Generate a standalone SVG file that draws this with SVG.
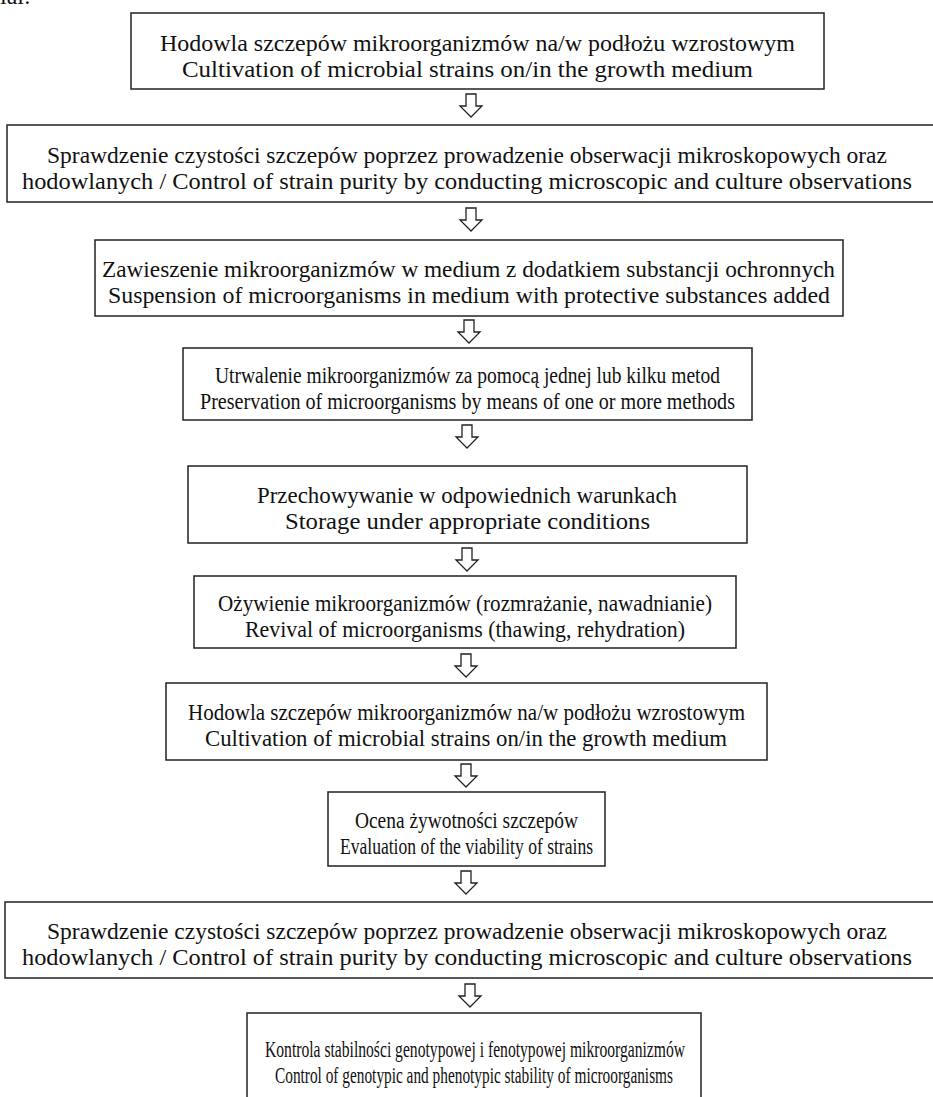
<svg xmlns="http://www.w3.org/2000/svg" width="933" height="1097" viewBox="0 0 933 1097">
<style>
.box{fill:#fff;stroke:#222;stroke-width:1.5}
.t{font-family:"Liberation Serif","Times New Roman",serif;font-size:24px;fill:#111;text-anchor:middle}
.arr{fill:#fff;stroke:#222;stroke-width:1.3;stroke-linejoin:miter}
</style>
<defs>
<path id="da" d="M-5,0 H5 V12 H11 L0,23 L-11,12 H-5 Z"/>
</defs>
<rect width="933" height="1097" fill="#fff"/>
<text class="t" x="0" y="4" style="text-anchor:start">ial:</text>
<g id="connectors">
<use href="#da" class="arr" x="471" y="94"/>
<use href="#da" class="arr" x="471" y="208"/>
<use href="#da" class="arr" x="469" y="320"/>
<use href="#da" class="arr" x="467" y="425"/>
<use href="#da" class="arr" x="467" y="548"/>
<use href="#da" class="arr" x="466" y="654"/>
<use href="#da" class="arr" x="466" y="764"/>
<use href="#da" class="arr" x="466" y="871"/>
<use href="#da" class="arr" x="470" y="984"/>
</g>
<g id="n1"><rect class="box" x="131" y="13" width="693" height="76"/>
<text class="t" x="477.5" y="51" textLength="635" lengthAdjust="spacingAndGlyphs">Hodowla szczepów mikroorganizmów na/w podłożu wzrostowym</text>
<text class="t" x="467.5" y="77" textLength="571" lengthAdjust="spacingAndGlyphs">Cultivation of microbial strains on/in the growth medium</text></g>
<g id="n2"><rect class="box" x="7" y="125" width="927" height="77"/>
<text class="t" x="467" y="163" textLength="840" lengthAdjust="spacingAndGlyphs">Sprawdzenie czystości szczepów poprzez prowadzenie obserwacji mikroskopowych oraz</text>
<text class="t" x="467" y="189" textLength="890" lengthAdjust="spacingAndGlyphs">hodowlanych / Control of strain purity by conducting microscopic and culture observations</text></g>
<g id="n3"><rect class="box" x="95" y="240" width="748" height="76"/>
<text class="t" x="468.5" y="277" textLength="733" lengthAdjust="spacingAndGlyphs">Zawieszenie mikroorganizmów w medium z dodatkiem substancji ochronnych</text>
<text class="t" x="469" y="303" textLength="722" lengthAdjust="spacingAndGlyphs">Suspension of microorganisms in medium with protective substances added</text></g>
<g id="n4"><rect class="box" x="183" y="348" width="569" height="72"/>
<text class="t" x="467.5" y="383" textLength="505" lengthAdjust="spacingAndGlyphs">Utrwalenie mikroorganizmów za pomocą jednej lub kilku metod</text>
<text class="t" x="467.5" y="409" textLength="535" lengthAdjust="spacingAndGlyphs">Preservation of microorganisms by means of one or more methods</text></g>
<g id="n5"><rect class="box" x="188" y="466" width="559" height="77"/>
<text class="t" x="467" y="503" textLength="420" lengthAdjust="spacingAndGlyphs">Przechowywanie w odpowiednich warunkach</text>
<text class="t" x="467.5" y="529" textLength="365" lengthAdjust="spacingAndGlyphs">Storage under appropriate conditions</text></g>
<g id="n6"><rect class="box" x="194" y="576" width="542" height="72"/>
<text class="t" x="465" y="611" textLength="494" lengthAdjust="spacingAndGlyphs">Ożywienie mikroorganizmów (rozmrażanie, nawadnianie)</text>
<text class="t" x="465" y="637" textLength="440" lengthAdjust="spacingAndGlyphs">Revival of microorganisms (thawing, rehydration)</text></g>
<g id="n7"><rect class="box" x="166" y="683" width="601" height="77"/>
<text class="t" x="466.5" y="720" textLength="557" lengthAdjust="spacingAndGlyphs">Hodowla szczepów mikroorganizmów na/w podłożu wzrostowym</text>
<text class="t" x="466" y="746" textLength="522" lengthAdjust="spacingAndGlyphs">Cultivation of microbial strains on/in the growth medium</text></g>
<g id="n8"><rect class="box" x="328" y="792" width="277" height="74"/>
<text class="t" x="466.5" y="828" textLength="223" lengthAdjust="spacingAndGlyphs">Ocena żywotności szczepów</text>
<text class="t" x="466.5" y="854" textLength="253" lengthAdjust="spacingAndGlyphs">Evaluation of the viability of strains</text></g>
<g id="n9"><rect class="box" x="5" y="902" width="929" height="76"/>
<text class="t" x="467" y="939" textLength="840" lengthAdjust="spacingAndGlyphs">Sprawdzenie czystości szczepów poprzez prowadzenie obserwacji mikroskopowych oraz</text>
<text class="t" x="467" y="965" textLength="890" lengthAdjust="spacingAndGlyphs">hodowlanych / Control of strain purity by conducting microscopic and culture observations</text></g>
<g id="n10"><rect class="box" x="247" y="1013" width="454" height="100"/>
<text class="t" x="475" y="1057" textLength="420" lengthAdjust="spacingAndGlyphs">Kontrola stabilności genotypowej i fenotypowej mikroorganizmów</text>
<text class="t" x="474" y="1083" textLength="398" lengthAdjust="spacingAndGlyphs">Control of genotypic and phenotypic stability of microorganisms</text></g>
</svg>
